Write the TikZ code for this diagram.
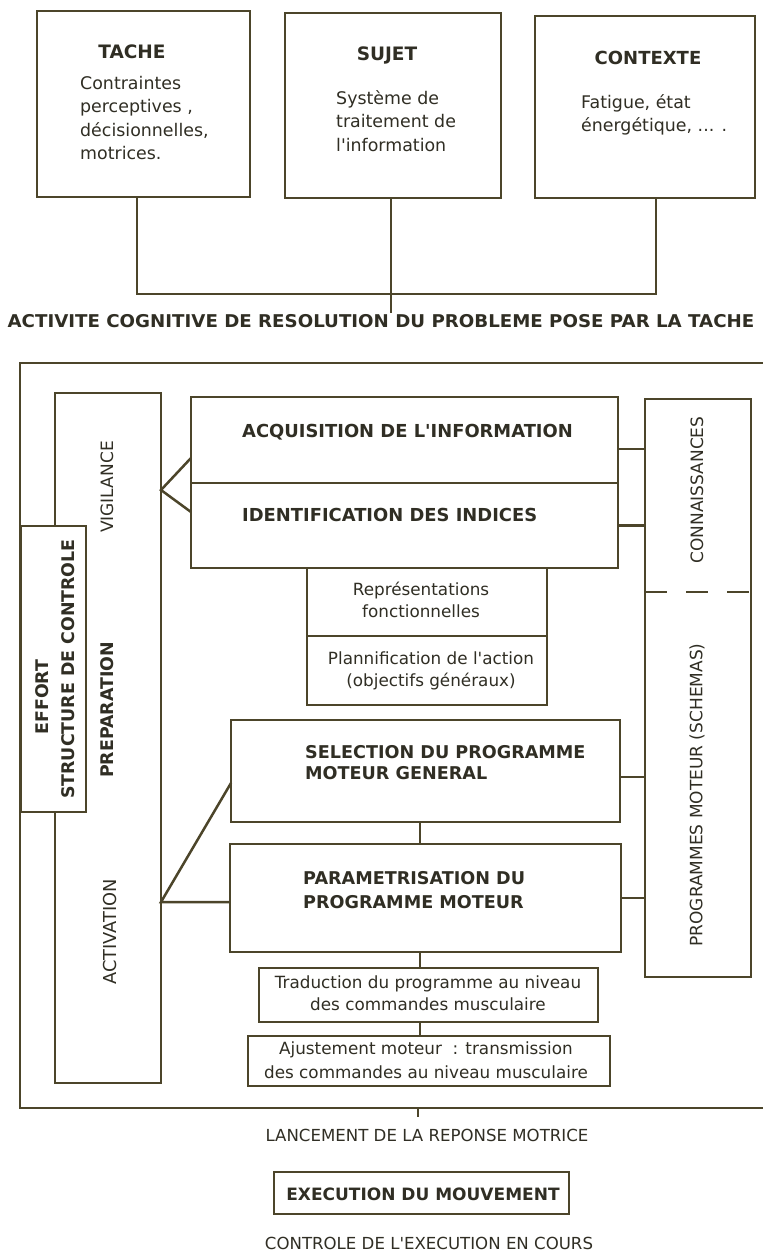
\documentclass[tikz,border=0pt]{standalone}
\usepackage{fontspec}
\setmainfont{DejaVu Sans}
\definecolor{ink}{RGB}{76,69,42}
\definecolor{txt}{RGB}{48,46,36}
\begin{document}
\begin{tikzpicture}[x=1pt,y=-1pt,
  box/.style={draw=ink,line width=2.8pt,fill=white,inner sep=0pt,outer sep=0pt,anchor=north west},
  tbox/.style={draw=ink,line width=1.4pt,fill=white,inner sep=0pt,outer sep=0pt,anchor=north west},
  link/.style={draw=ink,line width=2.5pt},
  tlink/.style={draw=ink,line width=1.5pt},
  ttl/.style={text=txt,inner sep=0pt,font=\bfseries\fontsize{17.6}{20}\selectfont},
  bdy/.style={text=txt,inner sep=0pt,font=\fontsize{17.4}{23.3}\selectfont,align=left,anchor=west},
  cbdy/.style={text=txt,inner sep=0pt,font=\fontsize{16.8}{22}\selectfont,align=center},
  plain/.style={text=txt,inner sep=0pt,font=\fontsize{16.6}{20}\selectfont},
  vlab/.style={text=txt,inner sep=0pt,rotate=90,font=\fontsize{17}{18}\selectfont},
  vttl/.style={text=txt,inner sep=0pt,rotate=90,font=\bfseries\fontsize{17.4}{20}\selectfont},
]
\useasboundingbox (0,0) rectangle (763,1251);
\fill[white] (0,0) rectangle (763,1251);

% ---- top boxes
\node[box,minimum width=213pt,minimum height=186pt] (tache) at (37,11) {};
\node[box,minimum width=216pt,minimum height=185pt] (sujet) at (285,13) {};
\node[box,minimum width=220pt,minimum height=182pt] (ctx) at (535,16) {};
\node[ttl,font=\bfseries\fontsize{18.5}{20}\selectfont] (tacheT) at (132,52) {TACHE};
\node[bdy] (tacheB) at (80,118) {Contraintes\\perceptives ,\\décisionnelles,\\motrices.};
\node[ttl,font=\bfseries\fontsize{18.5}{20}\selectfont] (sujetT) at (387,55) {SUJET};
\node[bdy] (sujetB) at (336,121) {Système de\\traitement de\\l\textquotesingle information};
\node[ttl,font=\bfseries\fontsize{18}{20}\selectfont] (ctxT) at (648,58) {CONTEXTE};
\node[bdy] (ctxB) at (581,114.5) {Fatigue, état\\énergétique, ... .};

\coordinate (tj) at (391,294);
\coordinate (tend) at (391,313);
\draw[link] ([xshift=-6.5pt]tache.south) |- (tj) -| ([xshift=11pt]ctx.south);
\draw[link] ([xshift=-2pt]sujet.south) -- (tend);

\node[ttl] (activ) at (381,321) {\scalebox{1.035}[1]{ACTIVITE COGNITIVE DE RESOLUTION DU PROBLEME POSE PAR LA TACHE}};

% ---- outer frame
\coordinate (oTR) at (775,363);
\coordinate (oTL) at (20,363);
\coordinate (oBL) at (20,1108);
\coordinate (oBR) at (775,1108);
\draw[draw=ink,line width=2.8pt] (oTR) -- (oTL) -- (oBL) -- (oBR);

% ---- left column
\node[box,minimum width=106pt,minimum height=690pt] (colL) at (55,393) {};
\node[box,line width=2.2pt,minimum width=65pt,minimum height=286pt] (effort) at (21,526) {};
\node[vttl] (effT) at (42,697) {EFFORT};
\node[vttl] (strT) at (68,669) {STRUCTURE DE CONTROLE};
\node[vlab] (vig) at (107,487) {VIGILANCE};
\node[vttl] (prep) at (107,710) {PREPARATION};
\node[vlab,font=\fontsize{17.8}{18}\selectfont] (act) at (110,932) {ACTIVATION};

% ---- middle column
\node[tbox,minimum width=240pt,minimum height=68pt] (rep) at (307,568) {};
\node[tbox,minimum width=240pt,minimum height=69pt] (plan) at (307,636) {};
\node[box,minimum width=427pt,minimum height=86pt] (acq) at (191,397) {};
\node[box,minimum width=427pt,minimum height=85pt] (iden) at (191,483) {};
\node[ttl,anchor=west,font=\bfseries\fontsize{17.9}{20}\selectfont] (acqT) at (242,432) {ACQUISITION DE L\textquotesingle INFORMATION};
\node[ttl,anchor=west,font=\bfseries\fontsize{17.9}{20}\selectfont] (idenT) at (242,515) {IDENTIFICATION DES INDICES};
\node[cbdy] (repT) at (421,600) {Représentations\\fonctionnelles};
\node[cbdy] (planT) at (431,671) {Plannification de l\textquotesingle action\\(objectifs généraux)};

\node[box,minimum width=389pt,minimum height=102pt] (sel) at (231,720) {};
\node[ttl,anchor=west,align=left,font=\bfseries\fontsize{17.6}{21}\selectfont] (selT) at (305,762.5) {SELECTION DU PROGRAMME\\MOTEUR GENERAL};
\node[box,minimum width=391pt,minimum height=108pt] (par) at (230,844) {};
\node[ttl,anchor=west,align=left,font=\bfseries\fontsize{17.6}{24}\selectfont] (parT) at (303,890) {PARAMETRISATION DU\\PROGRAMME MOTEUR};

\node[tbox,minimum width=339pt,minimum height=54pt] (trad) at (259,968) {};
\node[cbdy] (tradT) at (428,993) {Traduction du programme au niveau\\des commandes musculaire};
\node[tbox,minimum width=362pt,minimum height=50pt] (ajust) at (248,1036) {};
\node[cbdy,font=\fontsize{16.8}{24}\selectfont] (ajT) at (426,1060) {Ajustement moteur~ : transmission\\des commandes au niveau musculaire};

% ---- right column
\node[box,minimum width=106pt,minimum height=578pt] (colR) at (645,399) {};
\node[vlab] (conn) at (697,490) {CONNAISSANCES};
\node[vlab] (prog) at (697,795) {PROGRAMMES MOTEUR (SCHEMAS)};
\coordinate (dl) at (645,592);
\coordinate (dr) at (751,592);
\draw[draw=ink,line width=2.4pt,dash pattern=on 22pt off 19pt] (dl) -- (dr);

% ---- connectors right
\coordinate (r1) at ([yshift=-9pt]acq.east);
\draw[link] (r1) -- (r1 -| colR.west);
\draw[link] (iden.east) -- (iden.east -| colR.west);
\coordinate (r3) at ([yshift=-6pt]sel.east);
\draw[link] (r3) -- (r3 -| colR.west);
\draw[link] (par.east) -- (par.east -| colR.west);

% ---- connectors left
\coordinate (ap1) at (161,490);
\draw[link] ([yshift=-18pt]acq.west) -- (ap1) -- ([yshift=13.5pt]iden.west);
\coordinate (ap2) at (161,902);
\draw[link] ([yshift=-12pt]sel.west) -- (ap2) -- (ap2 -| par.west);

% ---- middle vertical connectors
\coordinate (mx) at (420,0);
\draw[tlink] (sel.south -| mx) -- (par.north -| mx);
\draw[tlink] (par.south -| mx) -- (trad.north -| mx);
\draw[tlink] (trad.south -| mx) -- (ajust.north -| mx);
\coordinate (ob) at (418,1108);
\coordinate (obt) at (418,1117);
\draw[link] (ob) -- (obt);

% ---- bottom
\node[plain] (lanc) at (427,1135) {LANCEMENT DE LA REPONSE MOTRICE};
\node[box,line width=2.4pt,minimum width=295pt,minimum height=42pt] (exec) at (274,1172) {};
\node[ttl,font=\bfseries\fontsize{17}{20}\selectfont] (execT) at (423,1194) {EXECUTION DU MOUVEMENT};
\node[plain] (ctrl) at (429,1243) {CONTROLE DE L\textquotesingle EXECUTION EN COURS};
\end{tikzpicture}
\end{document}
